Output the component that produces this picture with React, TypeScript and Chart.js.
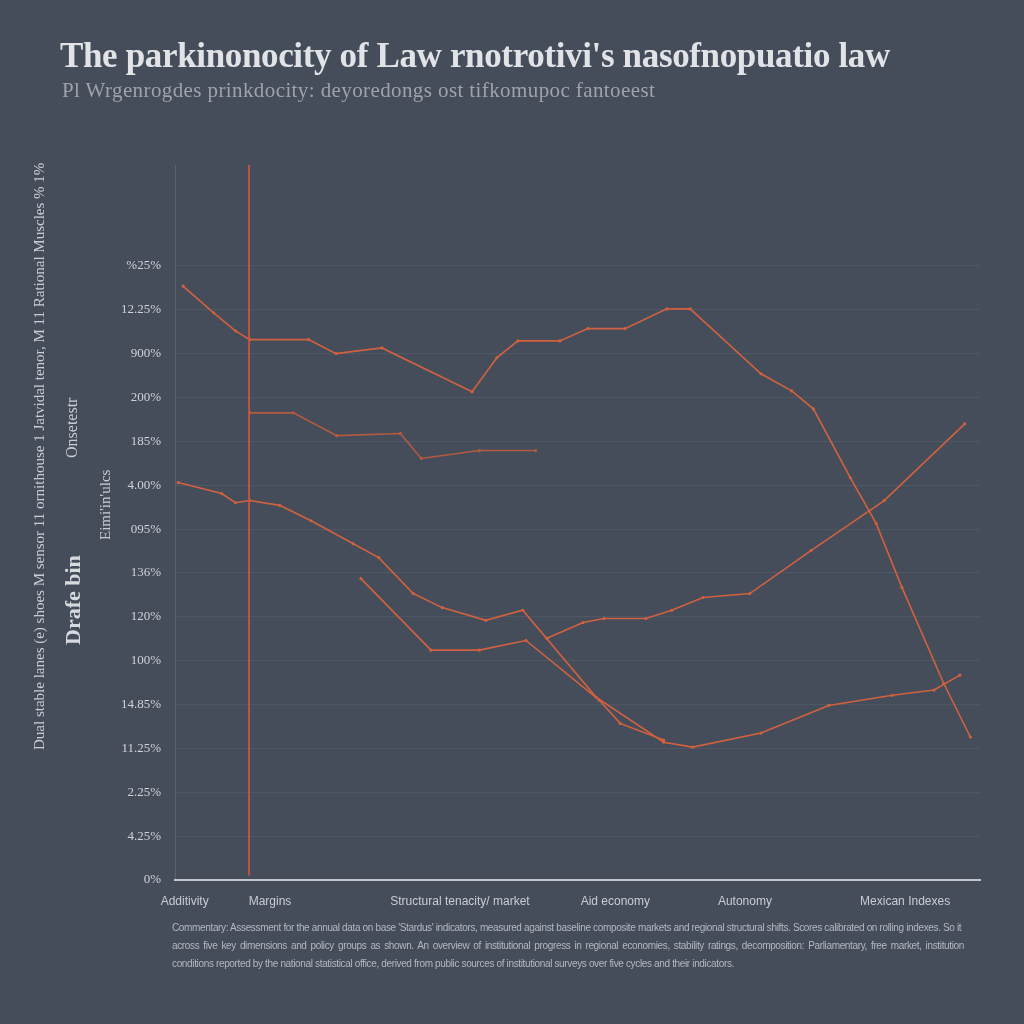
import React, { useEffect, useRef } from "react";
import { Chart, registerables } from "chart.js";

Chart.register(...registerables);

const titleText = "The parkinonocity of Law rnotrotivi's nasofnopuatio law";
const subtitleText = "Pl Wrgenrogdes prinkdocity: deyoredongs ost tifkomupoc fantoeest";

const yTickValues = [0, 1, 2, 3, 4, 5, 6, 7, 8, 9, 10, 11, 12, 13, 14];
const yTickLabels = ["0%", "4.25%", "2.25%", "11.25%", "14.85%", "100%", "120%", "136%", "095%", "4.00%", "185%", "200%", "900%", "12.25%", "%25%"];

const xTickValues = [1.2, 11.8, 35.4, 54.7, 70.8, 90.7];
const xTickLabels = ["Additivity", "Margins", "Structural tenacity/ market", "Aid economy", "Autonomy", "Mexican Indexes"];

const markerX = [9.2, 9.2];
const markerY = [0.1, 16.3];

const seriesAX = [1.0, 4.8, 7.5, 9.3, 16.6, 20.0, 25.7, 36.9, 40.0, 42.6, 47.8, 51.3, 55.9, 61.1, 64.0, 72.8, 76.6, 79.3, 83.9, 87.1, 90.3, 95.5, 98.8];
const seriesAY = [13.54, 12.93, 12.52, 12.32, 12.32, 12.0, 12.13, 11.13, 11.91, 12.29, 12.29, 12.57, 12.57, 13.02, 13.02, 11.54, 11.15, 10.74, 9.17, 8.13, 6.67, 4.48, 3.26];

const seriesBX = [9.3, 14.7, 20.1, 28.0, 30.6, 37.8, 44.8];
const seriesBY = [10.65, 10.65, 10.13, 10.18, 9.61, 9.79, 9.79];

const seriesCX = [0.4, 5.8, 7.5, 9.3, 13.0, 16.9, 22.1, 25.3, 29.6, 33.2, 38.6, 43.2, 52.3, 60.7, 64.3, 72.8, 81.2, 89.1, 94.3, 97.5];
const seriesCY = [9.06, 8.81, 8.6, 8.65, 8.54, 8.19, 7.67, 7.35, 6.53, 6.21, 5.92, 6.15, 4.17, 3.14, 3.03, 3.35, 3.98, 4.21, 4.33, 4.67];

const seriesDX = [23.1, 31.8, 37.8, 43.6, 52.7, 55.3, 60.7];
const seriesDY = [6.87, 5.24, 5.24, 5.46, 4.1, 3.57, 3.19];

const seriesEX = [46.2, 50.7, 53.3, 58.5, 61.7, 65.6, 71.4, 79.0, 88.1, 98.1];
const seriesEY = [5.51, 5.87, 5.96, 5.96, 6.15, 6.44, 6.53, 7.51, 8.65, 10.4];

const footLines = [
  "Commentary: Assessment for the annual data on base 'Stardus' indicators, measured against baseline composite markets and regional structural shifts. Scores calibrated on rolling indexes. So it compares",
  "across five key dimensions and policy groups as shown. An overview of institutional progress in regional economies, stability ratings, decomposition: Parliamentary, free market, institution",
  "conditions reported by the national statistical office, derived from public sources of institutional surveys over five cycles and their indicators.",
];

const pair = (xs: number[], ys: number[]) => xs.map((x, i) => ({ x, y: ys[i] }));

const BG = "#454d5b";
const LINE = "#d2613f";

export default function App() {
  const ref = useRef<HTMLCanvasElement | null>(null);

  useEffect(() => {
    if (!ref.current) return;
    const common = {
      borderColor: LINE,
      backgroundColor: LINE,
      borderWidth: 1.6,
      pointRadius: 1.6,
      pointBorderWidth: 0,
      tension: 0,
      fill: false,
    };
    const chart = new Chart(ref.current, {
      type: "line",
      data: {
        datasets: [
          { ...common, data: pair(markerX, markerY), pointRadius: 0, borderWidth: 1.8, borderColor: "#c9553c" },
          { ...common, data: pair(seriesAX, seriesAY) },
          { ...common, data: pair(seriesBX, seriesBY), borderColor: "#b45a40", backgroundColor: "#b45a40" },
          { ...common, data: pair(seriesCX, seriesCY) },
          { ...common, data: pair(seriesDX, seriesDY) },
          { ...common, data: pair(seriesEX, seriesEY) },
        ],
      },
      options: {
        animation: false,
        responsive: false,
        maintainAspectRatio: false,
        layout: { padding: { left: 105, right: 44, top: 165, bottom: 114 } },
        plugins: { legend: { display: false }, tooltip: { enabled: false }, title: { display: false } },
        scales: {
          x: {
            type: "linear",
            min: 0,
            max: 100,
            afterBuildTicks: (scale: any) => {
              scale.ticks = xTickValues.map((v) => ({ value: v }));
            },
            afterFit: (scale: any) => {
              scale.height = 30;
            },
            ticks: {
              autoSkip: false,
              maxRotation: 0,
              padding: 14,
              color: "#c9cdd3",
              font: { family: "Liberation Sans", size: 12 },
              callback: (_v: any, i: number) => xTickLabels[i],
            },
            grid: { display: false, drawTicks: false },
            border: { display: true, color: "#c3c7cd", width: 2 },
          },
          y: {
            type: "linear",
            min: 0,
            max: 16.3,
            afterBuildTicks: (scale: any) => {
              scale.ticks = yTickValues.map((v) => ({ value: v }));
            },
            afterFit: (scale: any) => {
              scale.width = 70;
            },
            ticks: {
              autoSkip: false,
              padding: 14,
              color: "#cfd2d8",
              font: { family: "Liberation Serif", size: 13 },
              callback: (_v: any, i: number) => yTickLabels[i],
            },
            grid: { color: "rgba(255,255,255,0.06)", drawTicks: false },
            border: { display: true, color: "rgba(255,255,255,0.12)", width: 1 },
          },
        },
      },
    });
    return () => chart.destroy();
  }, []);

  const vert = (left: number, top: number, height: number, size: number, text: string, weight = 400, color = "#c9cdd3") => (
    <div
      style={{
        position: "absolute",
        left,
        top,
        height,
        writingMode: "vertical-rl",
        transform: "rotate(180deg)",
        textAlign: "center",
        fontFamily: "Liberation Serif",
        fontSize: size,
        fontWeight: weight,
        color,
        whiteSpace: "nowrap",
        lineHeight: 1,
      }}
    >
      {text}
    </div>
  );

  return (
    <div style={{ position: "absolute", left: 0, top: 0, width: 1024, height: 1024, background: BG, overflow: "hidden" }}>
      <canvas ref={ref} width={1024} height={1024} style={{ position: "absolute", left: 0, top: 0 }} />
      <div
        style={{
          position: "absolute",
          left: 60,
          top: 36,
          fontFamily: "Liberation Serif",
          fontSize: 35,
          fontWeight: 700,
          color: "#e1e3e7",
          whiteSpace: "nowrap",
          letterSpacing: -0.35,
        }}
      >
        {titleText}
      </div>
      <div
        style={{
          position: "absolute",
          left: 62,
          top: 78,
          fontFamily: "Liberation Serif",
          fontSize: 21,
          color: "#9ea3ac",
          whiteSpace: "nowrap",
          letterSpacing: 0.4,
        }}
      >
        {subtitleText}
      </div>
      {vert(32, 165, 585, 15, "Dual stable lanes (e) shoes M sensor 11 ornithouse 1 Jatvidal tenor, M 11 Rational Muscles % 1%")}
      {vert(62, 575, 70, 22, "Drafe bin", 700, "#d6d9de")}
      {vert(64, 380, 95, 16, "Onsetestr", 400)}
      {vert(98, 460, 90, 15, "Eimi'in'ulcs", 400)}
      {footLines.map((t, i) => (
        <div
          key={i}
          style={{
            position: "absolute",
            left: 172,
            top: 922 + i * 18,
            width: i < 2 ? 792 : undefined,
            fontFamily: "Liberation Sans",
            fontSize: 10,
            color: "#b3b8c0",
            whiteSpace: "nowrap",
            letterSpacing: -0.35,
            textAlign: i < 2 ? "justify" : "left",
            textAlignLast: i < 2 ? "justify" : "left",
            overflow: "hidden",
          }}
        >
          {t}
        </div>
      ))}
    </div>
  );
}
